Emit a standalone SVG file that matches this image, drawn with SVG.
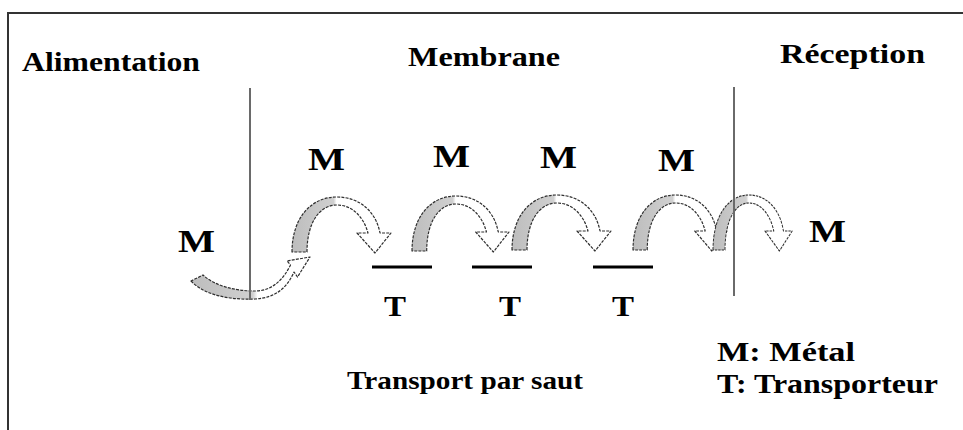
<svg xmlns="http://www.w3.org/2000/svg" width="963" height="430" viewBox="0 0 963 430">
<style>
text{font-family:"Liberation Serif","Times New Roman",serif;font-weight:bold;fill:#000}
.h{font-size:27px}
.m{font-size:32px}
.t{font-size:30px}
.l{font-size:28px}
.c{font-size:25px}
.arrow{stroke:#2e2e2e;stroke-width:1.2;stroke-dasharray:3 1.2;stroke-linejoin:round}
.bar{stroke:#000;stroke-width:3}
.mem{stroke:#6a6a6a;stroke-width:2}
.frame{stroke:#333;stroke-width:2;fill:none}
</style>
<defs>
<linearGradient id="gHop" x1="0" y1="0" x2="1" y2="0">
<stop offset="0" stop-color="#bdbdbd"/>
<stop offset="0.42" stop-color="#d0d0d0"/>
<stop offset="0.45" stop-color="#ffffff"/>
<stop offset="1" stop-color="#ffffff"/>
</linearGradient>
<linearGradient id="gLow" x1="0" y1="0" x2="1" y2="0">
<stop offset="0" stop-color="#bdbdbd"/>
<stop offset="0.52" stop-color="#d0d0d0"/>
<stop offset="0.56" stop-color="#ffffff"/>
<stop offset="1" stop-color="#ffffff"/>
</linearGradient>
<path id="hop" class="arrow" fill="url(#gHop)" d="M0 0 C0 -33 18 -55 45 -55 C68 -55 84 -40 88 -19 L99 -19 L83 1 L65 -19 L76 -19 C72 -34 61 -47 45 -47 C28 -47 15 -30 15 0 Z"/>
</defs>
<polyline class="frame" points="8,430 8,13 963,13"/>
<g id="headings">
<text class="h" x="22" y="71" textLength="178" lengthAdjust="spacingAndGlyphs">Alimentation</text>
<text class="h" x="408" y="66" textLength="152" lengthAdjust="spacingAndGlyphs">Membrane</text>
<text class="h" x="780" y="63" textLength="145" lengthAdjust="spacingAndGlyphs">Réception</text>
</g>
<g id="connectors">
<path id="arrow0" class="arrow" fill="url(#gLow)" d="M191 281 C205 296 232 300 255 299 C275 298 287 288 294 272 L297.5 277 L310 257 L287 261 L290.5 265 C283 280 272 291 255 291 C235 291 215 286 203 275 Z"/>
<use href="#hop" transform="translate(292,252)"/>
<use href="#hop" transform="translate(412,251) scale(0.98,1)"/>
<use href="#hop" transform="translate(512,250)"/>
<use href="#hop" transform="translate(633,250) scale(0.95,1)"/>
<use href="#hop" transform="translate(713,250) scale(0.8,1)"/>
</g>
<g id="membrane-left"><line class="mem" x1="250" y1="88" x2="250" y2="300"/></g>
<g id="membrane-right"><line class="mem" x1="734" y1="87" x2="734" y2="296"/></g>
<g id="metals">
<text class="m" x="178" y="252" textLength="37" lengthAdjust="spacingAndGlyphs">M</text>
<text class="m" x="308" y="170" textLength="37" lengthAdjust="spacingAndGlyphs">M</text>
<text class="m" x="433" y="167" textLength="37" lengthAdjust="spacingAndGlyphs">M</text>
<text class="m" x="540" y="168" textLength="37" lengthAdjust="spacingAndGlyphs">M</text>
<text class="m" x="658" y="171" textLength="37" lengthAdjust="spacingAndGlyphs">M</text>
<text class="m" x="809" y="242" textLength="37" lengthAdjust="spacingAndGlyphs">M</text>
</g>
<g id="transporter1"><line class="bar" x1="372" y1="267" x2="432" y2="267"/><text class="t" x="384" y="316" textLength="22" lengthAdjust="spacingAndGlyphs">T</text></g>
<g id="transporter2"><line class="bar" x1="472" y1="267" x2="532" y2="267"/><text class="t" x="499" y="316" textLength="22" lengthAdjust="spacingAndGlyphs">T</text></g>
<g id="transporter3"><line class="bar" x1="593" y1="267" x2="653" y2="267"/><text class="t" x="612" y="316" textLength="22" lengthAdjust="spacingAndGlyphs">T</text></g>
<g id="caption"><text class="c" x="347" y="389" textLength="236" lengthAdjust="spacingAndGlyphs">Transport par saut</text></g>
<g id="legend">
<text class="l" x="717" y="361" textLength="138" lengthAdjust="spacingAndGlyphs">M: Métal</text>
<text class="l" x="717" y="393" textLength="221" lengthAdjust="spacingAndGlyphs">T: Transporteur</text>
</g>
</svg>
